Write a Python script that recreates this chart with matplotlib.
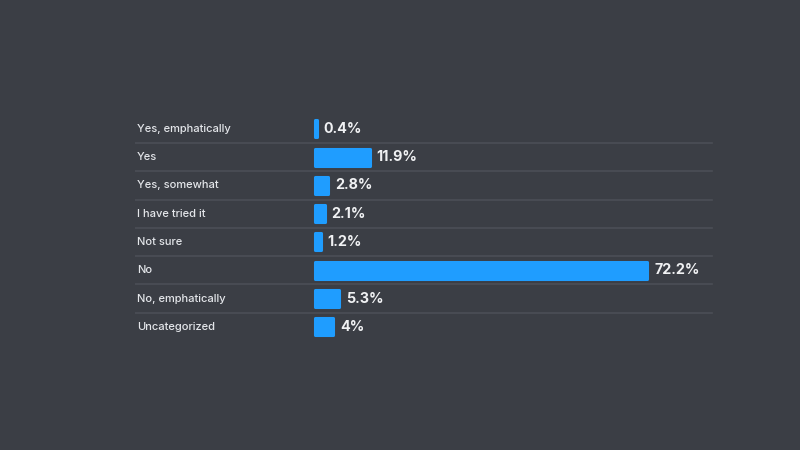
import matplotlib
matplotlib.use("Agg")
import matplotlib.pyplot as plt

# survey answers, top to bottom
labels = ["Yes, emphatically", "Yes", "Yes, somewhat", "I have tried it",
          "Not sure", "No", "No, emphatically", "Uncategorized"]
values = [0.4, 11.9, 2.8, 2.1, 1.2, 72.2, 5.3, 4]
value_text = ["0.4%", "11.9%", "2.8%", "2.1%", "1.2%", "72.2%", "5.3%", "4%"]

bg = "#3b3e45"
bar_col = "#1f9dff"
sep_col = "#4b4e56"

plt.rcParams["font.family"] = ["Inter", "DejaVu Sans"]

fig = plt.figure(figsize=(8, 4.5), dpi=100, facecolor=bg)
ax = fig.add_axes([135 / 800, (450 - 341) / 450, 580 / 800, 226.4 / 450])
ax.set_facecolor(bg)

px = 4.6  # pixels per percent
xmin = -(315 - 135) / px
xmax = (715 - 315) / px
ax.set_xlim(xmin, xmax)
ax.set_ylim(len(labels) - 0.5, -0.5)

ypos = list(range(len(labels)))
ax.barh(ypos, values, height=0.6, left=0, color=bar_col, edgecolor=bar_col,
        linewidth=2.2, joinstyle="round", zorder=3)

for i in range(len(labels) - 1):
    ax.axhline(i + 0.5, xmin=0, xmax=577 / 580, color=sep_col, lw=1.2, zorder=1)

for i, (lab, v, t) in enumerate(zip(labels, values, value_text)):
    ax.text(xmin + 2 / px, i, lab, ha="left", va="center", fontsize=8,
            fontweight="medium", color="#e4e6ea")
    ax.annotate(t, (v, i), xytext=(5, 0), textcoords="offset points",
                ha="left", va="center", fontsize=10.3, fontweight="bold",
                color="#f0f1f3")

for s in ax.spines.values():
    s.set_visible(False)
ax.set_xticks([])
ax.set_yticks([])

fig.savefig("out.png", dpi=100, facecolor=bg)
